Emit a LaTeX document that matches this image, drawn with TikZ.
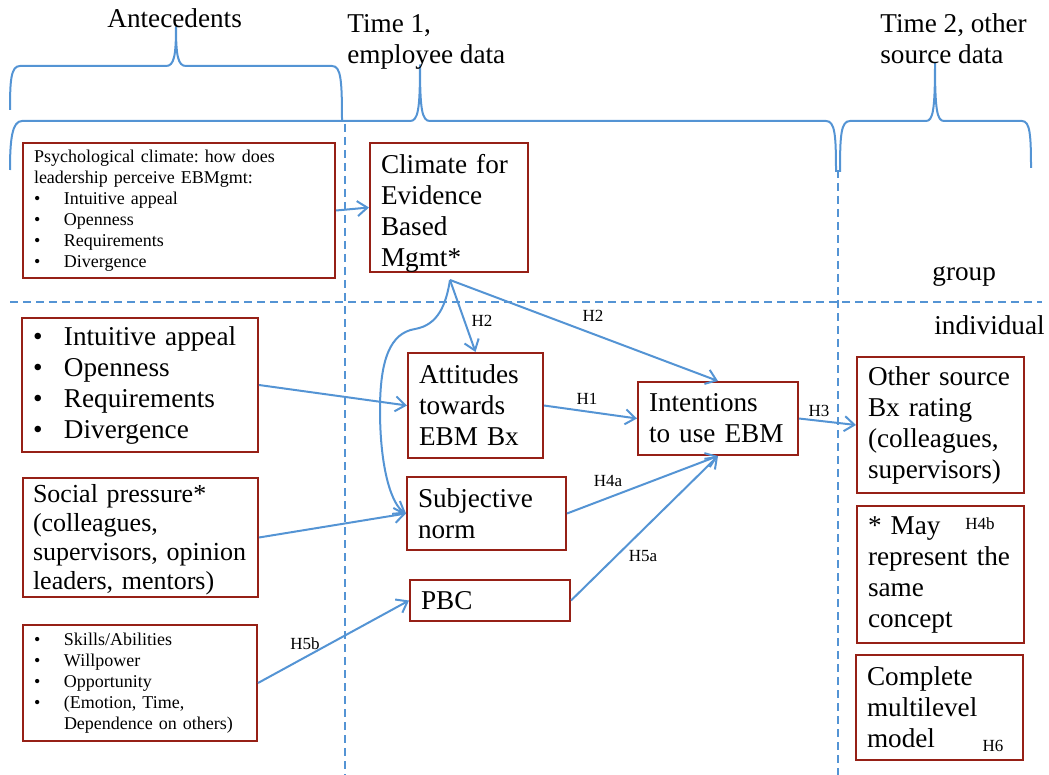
\documentclass[tikz,border=0pt]{standalone}
\usepackage{fontspec}
\setmainfont{Liberation Serif}
\usetikzlibrary{arrows.meta}
\definecolor{linkblue}{RGB}{84,148,212}
\definecolor{boxred}{RGB}{150,32,22}
\frenchspacing
\hyphenpenalty=10000
\newcommand\bigtxt{\fontsize{13.6}{15.5}\selectfont}
\newcommand\midtxt{\fontsize{13}{14.5}\selectfont}
\newcommand\smalltxt{\fontsize{9}{10.5}\selectfont}
\newcommand\lbltxt{\fontsize{8.5}{10}\selectfont}
\newcommand\bitem[1]{\makebox[15.5pt][l]{\textbullet}#1}
\newcommand\sitem[1]{\makebox[15pt][l]{\textbullet}#1}
\tikzset{
  box/.style={draw=boxred, line width=1pt, fill=white, inner xsep=5.5pt,
    inner ysep=0pt, align=left, anchor=center, font=\bigtxt},
  smallbox/.style={box, font=\smalltxt},
  bracket/.style={draw=linkblue, line width=1pt, line join=round},
  divider/.style={draw=linkblue, line width=1pt, dash pattern=on 4pt off 2.5pt},
  arr/.style={draw=linkblue, line width=1pt,
    -{Straight Barb[length=5pt,width=7.5pt,line width=1pt]}},
  lbl/.style={font=\lbltxt, inner sep=0pt},
  title/.style={font=\bigtxt, inner sep=0pt, align=left},
}
\begin{document}
\begin{tikzpicture}[x=0.5pt,y=-0.5pt]
\useasboundingbox (0,0) rectangle (1049,775);

% column and level dividers
\draw[divider] (345,124) -- (345,775);
\draw[divider] (838,170) -- (838,775);
\draw[divider] (10,302) -- (1042,302);

% braces
\draw[bracket] (10,110) .. controls (10,80) and (11,66) .. (20,66) -- (166,66)
  .. controls (174,66) and (176,56) .. (176,27)
  .. controls (176,56) and (178,66) .. (186,66) -- (332,66)
  .. controls (341,66) and (342,80) .. (342,122);
\draw[bracket] (10,170) .. controls (10,140) and (12,121) .. (22,121) -- (410,121)
  .. controls (418,121) and (420,110) .. (420,65)
  .. controls (420,110) and (422,121) .. (430,121) -- (826,121)
  .. controls (835,121) and (836,135) .. (836,172);
\draw[bracket] (840,172) .. controls (840,135) and (841,121) .. (850,121) -- (926,121)
  .. controls (933,121) and (935,110) .. (935,63)
  .. controls (935,110) and (937,121) .. (944,121) -- (1022,121)
  .. controls (1030,121) and (1031,135) .. (1031,168);

% column titles
\node[title, anchor=north west] (tA) at (107,8) {Antecedents};
\node[title, anchor=north west] (tB) at (347,14) {Time 1,\\employee data};
\node[title, anchor=north west] (tC) at (880,13) {Time 2, other\\source data};

% level labels
\node[title, anchor=west] (lvg) at (932,276) {group};
\node[title, anchor=west] (lvi) at (934,325) {individual};

% boxes
\node[smallbox, text width=145pt, minimum height=67.5pt] (psy) at (179,210.5)
  {Psychological climate: how does\\leadership perceive EBMgmt:\\
   \sitem{Intuitive appeal}\\\sitem{Openness}\\\sitem{Requirements}\\\sitem{Divergence}};
\node[box, text width=68pt, minimum height=64.5pt] (clim) at (449,207.5)
  {\rule{0pt}{15pt}Climate for\\Evidence\\Based\\Mgmt*};
\node[box, text width=107pt, minimum height=67pt] (intu) at (140,385)
  {\bitem{Intuitive appeal}\\\bitem{Openness}\\\bitem{Requirements}\\\bitem{Divergence}};
\node[box, text width=56.5pt, minimum height=52.5pt] (att) at (475.5,405.5)
  {Attitudes\\towards\\EBM Bx};
\node[box, text width=69pt, minimum height=36.5pt] (int) at (718,418.5)
  {Intentions\\to use EBM};
\node[box, text width=72.5pt, minimum height=68pt] (oth) at (940.5,425)
  {Other source\\Bx rating\\(colleagues,\\supervisors)};
\node[box, font=\midtxt, inner xsep=5pt, text width=107.5pt, minimum height=59.5pt] (soc) at (140.5,537.5)
  {\rule{0pt}{11pt}Social pressure*\\(colleagues,\\supervisors, opinion\\leaders, mentors)};
\node[box, text width=68.5pt, minimum height=36.5pt] (subj) at (486.5,513.5)
  {Subjective\\norm};
\node[box, text width=69pt, minimum height=20.5pt] (pbc) at (490,600.5) {PBC};
\node[smallbox, text width=106pt, minimum height=58pt] (skl) at (140,683)
  {\sitem{Skills/Abilities}\\\sitem{Willpower}\\\sitem{Opportunity}\\
   \sitem{(Emotion, Time,}\\\hspace*{15pt}Dependence on others)};
\node[box, text width=72.5pt, minimum height=68.5pt] (may) at (940.5,574.5)
  {* May\\represent the\\same\\concept};
\node[box, text width=72.5pt, minimum height=52.5pt] (cmp) at (939.5,707.5)
  {Complete\\multilevel\\model};
\node[lbl] (h4b) at (980,524) {H4b};
\node[lbl] (h6) at (993,746) {H6};

% paths
\coordinate (cs) at (450,280);
\draw[arr] (psy.east) -- (clim.west);
\draw[arr] (cs) -- (att.north);
\draw[arr] (cs) -- (int.north);
\draw[arr] (cs) .. controls (446,305) and (438,325) .. (415,329)
  .. controls (390,333) and (380,360) .. (380,410)
  .. controls (380,470) and (392,505) .. (subj.west);
\draw[arr] (intu.east) -- (att.west);
\draw[arr] (att.east) -- (int.west);
\draw[arr] (int.east) -- (oth.west);
\draw[arr] (subj.east) -- (int.south);
\draw[arr] (pbc.east) -- (int.south);
\draw[arr] (soc.east) -- (subj.west);
\draw[arr] (skl.east) -- (pbc.west);

% path labels
\node[lbl] (h2a) at (482,321) {H2};
\node[lbl] (h2b) at (593,316) {H2};
\node[lbl] (h1) at (587,399) {H1};
\node[lbl] (h3) at (819,411) {H3};
\node[lbl] (h4a) at (608,481) {H4a};
\node[lbl] (h5a) at (643,556) {H5a};
\node[lbl] (h5b) at (305,644) {H5b};
\end{tikzpicture}
\end{document}
